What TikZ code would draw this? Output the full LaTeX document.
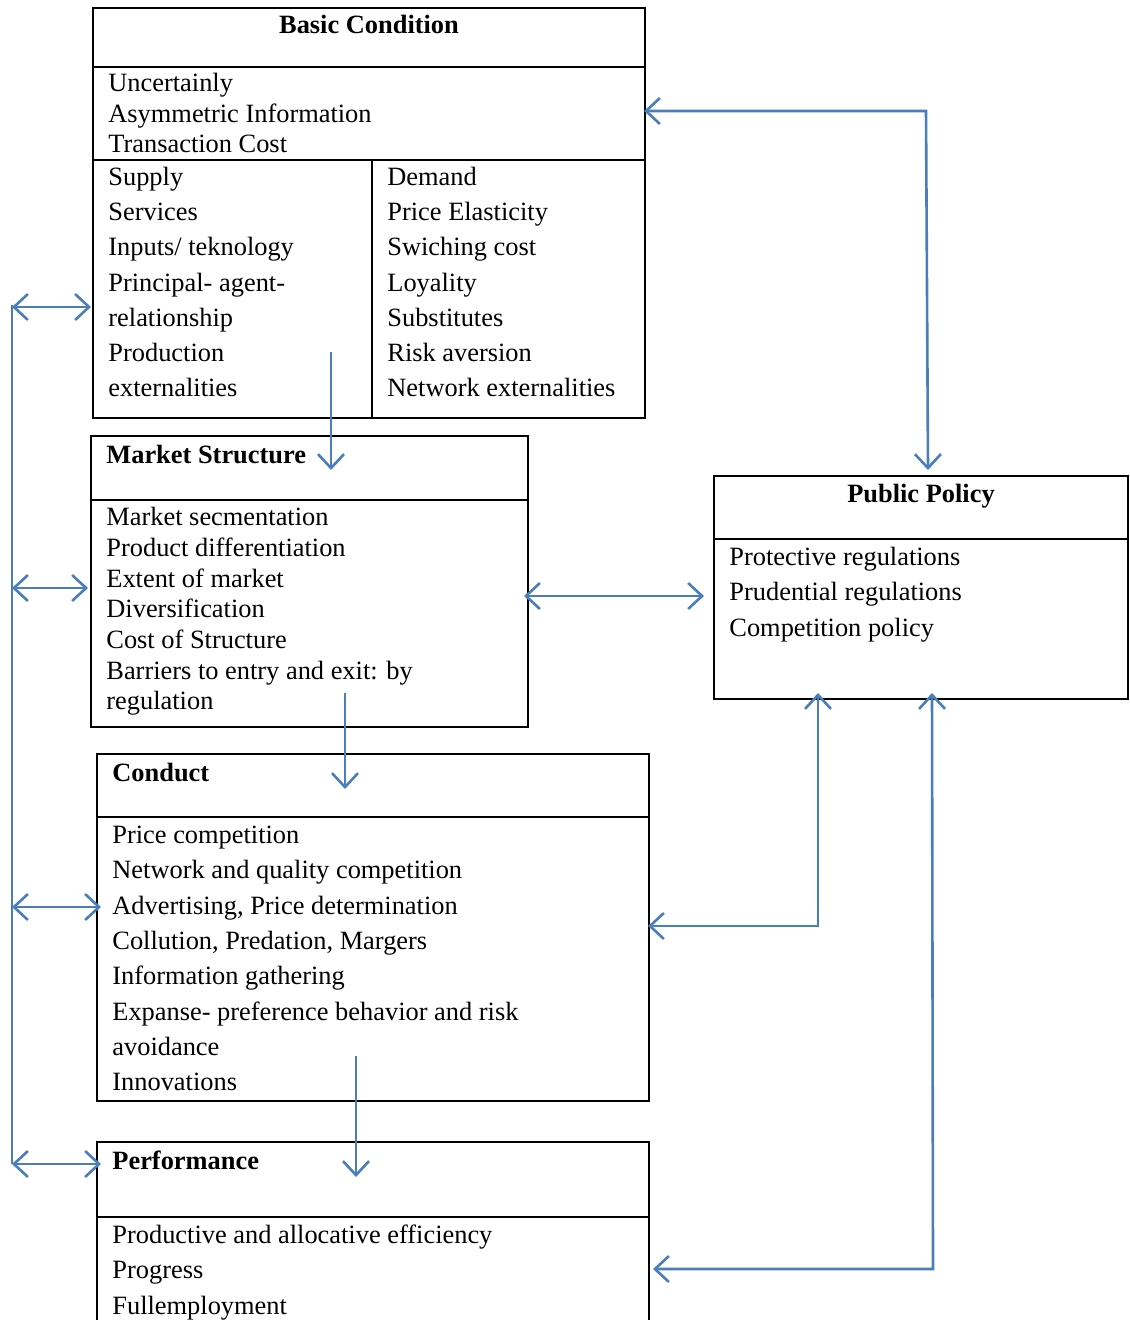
\documentclass[tikz,border=0pt]{standalone}
\usepackage{fontspec}
\setmainfont{Liberation Serif}
\usetikzlibrary{arrows.meta}
\definecolor{arrowblue}{HTML}{4A7EBB}
\tikzset{
  box/.style={draw=black,line width=1.3pt},
  sep/.style={draw=black,line width=1.3pt},
  txt/.style={anchor=base west,inner sep=0pt,font=\fontsize{13.2}{15}\selectfont},
  ttl/.style={anchor=base west,inner sep=0pt,font=\fontsize{13.2}{15}\selectfont\bfseries},
  ttlc/.style={anchor=base,inner sep=0pt,font=\fontsize{13.2}{15}\selectfont\bfseries},
  conn/.style={draw=arrowblue,line width=1.3pt,-{Straight Barb[length=7pt,width=13pt,line width=1.3pt]}},
  dconn/.style={draw=arrowblue,line width=1.3pt,{Straight Barb[length=7pt,width=13pt,line width=1.3pt]}-{Straight Barb[length=7pt,width=13pt,line width=1.3pt]}},
  plain/.style={draw=arrowblue,line width=1.3pt}
}
\begin{document}
\begin{tikzpicture}[x=0.5pt,y=-0.5pt]
\useasboundingbox (0,0) rectangle (1129,1320);
% ---------- Basic Condition ----------
\draw[box] (93,8) rectangle (645,418);
\draw[sep] (93,67) -- (645,67);
\draw[sep] (93,160) -- (645,160);
\draw[sep] (372,160) -- (372,418);
\node[ttlc] (bct) at (369,34) {Basic Condition};
\node[txt] (bc1) at (108,92) {Uncertainly};
\node[txt] (bc2) at (108,123) {Asymmetric Information};
\node[txt] (bc3) at (108,153) {Transaction Cost};
\node[txt] (s1) at (108,186) {Supply};
\node[txt] (s2) at (108,221) {Services};
\node[txt] (s3) at (108,256) {Inputs/ teknology};
\node[txt] (s4) at (108,292) {Principal- agent-};
\node[txt] (s5) at (108,327) {relationship};
\node[txt] (s6) at (108,362) {Production};
\node[txt] (s7) at (108,397) {externalities};
\node[txt] (d1) at (387,186) {Demand};
\node[txt] (d2) at (387,221) {Price Elasticity};
\node[txt] (d3) at (387,256) {Swiching cost};
\node[txt] (d4) at (387,292) {Loyality};
\node[txt] (d5) at (387,327) {Substitutes};
\node[txt] (d6) at (387,362) {Risk aversion};
\node[txt] (d7) at (387,397) {Network externalities};
% ---------- Market Structure ----------
\draw[box] (91,436) rectangle (528,727);
\draw[sep] (91,500) -- (528,500);
\node[ttl] (mst) at (106,463) {Market Structure};
\node[txt] (m1) at (106,525) {Market secmentation};
\node[txt] (m2) at (106,556) {Product differentiation};
\node[txt] (m3) at (106,587) {Extent of market};
\node[txt] (m4) at (106,617) {Diversification};
\node[txt] (m5) at (106,648) {Cost of Structure};
\node[txt] (m6) at (106,679) {Barriers to entry and exit: by};
\node[txt] (m7) at (106,709) {regulation};
% ---------- Public Policy ----------
\draw[box] (714,476) rectangle (1128,699);
\draw[sep] (714,539) -- (1128,539);
\node[ttlc] (ppt) at (921,502) {Public Policy};
\node[txt] (p1) at (729,565) {Protective regulations};
\node[txt] (p2) at (729,600) {Prudential regulations};
\node[txt] (p3) at (729,636) {Competition policy};
% ---------- Conduct ----------
\draw[box] (97,754) rectangle (649,1101);
\draw[sep] (97,817) -- (649,817);
\node[ttl] (cdt) at (112,781) {Conduct};
\node[txt] (c1) at (112,843) {Price competition};
\node[txt] (c2) at (112,878) {Network and quality competition};
\node[txt] (c3) at (112,914) {Advertising, Price determination};
\node[txt] (c4) at (112,949) {Collution, Predation, Margers};
\node[txt] (c5) at (112,984) {Information gathering};
\node[txt] (c6) at (112,1020) {Expanse- preference behavior and risk};
\node[txt] (c7) at (112,1055) {avoidance};
\node[txt] (c8) at (112,1090) {Innovations};
% ---------- Performance ----------
\draw[box] (97,1325) -- (97,1142) -- (649,1142) -- (649,1325);
\draw[sep] (97,1217) -- (649,1217);
\node[ttl] (pft) at (112,1169) {Performance};
\node[txt] (f1) at (112,1243) {Productive and allocative efficiency};
\node[txt] (f2) at (112,1278) {Progress};
\node[txt] (f3) at (112,1314) {Fullemployment};
% ---------- connector points ----------
\coordinate (L1) at (12,307);
\coordinate (L2) at (12,588);
\coordinate (L3) at (12,907);
\coordinate (L4) at (12,1164);
\coordinate (bcL) at (91,307);
\coordinate (msL) at (88,588);
\coordinate (cdL) at (101,907);
\coordinate (pfL) at (101,1164);
\coordinate (bcD0) at (331,352);
\coordinate (bcD1) at (331,470);
\coordinate (msD0) at (345,693);
\coordinate (msD1) at (345,789);
\coordinate (cdD0) at (356,1056);
\coordinate (cdD1) at (356,1177);
\coordinate (bcR) at (644,111);
\coordinate (k1) at (926,111);
\coordinate (ppTop) at (928,470);
\coordinate (msR) at (524,596);
\coordinate (ppL) at (704,596);
\coordinate (cdR) at (648,926);
\coordinate (k2) at (818,926);
\coordinate (ppB1) at (818,693);
\coordinate (pfR) at (653,1269);
\coordinate (k3) at (933,1269);
\coordinate (ppB2) at (932,693);
% ---------- connectors ----------
\draw[plain] (12,305) -- (12,1164);
\draw[dconn] (L1) -- (bcL);
\draw[dconn] (L2) -- (msL);
\draw[dconn] (L3) -- (cdL);
\draw[dconn] (L4) -- (pfL);
\draw[conn] (bcD0) -- (bcD1);
\draw[conn] (msD0) -- (msD1);
\draw[conn] (cdD0) -- (cdD1);
\draw[dconn] (bcR) -- (k1) -- (ppTop);
\draw[dconn] (msR) -- (ppL);
\draw[dconn] (cdR) -- (k2) -- (ppB1);
\draw[dconn] (pfR) -- (k3) -- (ppB2);
\end{tikzpicture}
\end{document}
